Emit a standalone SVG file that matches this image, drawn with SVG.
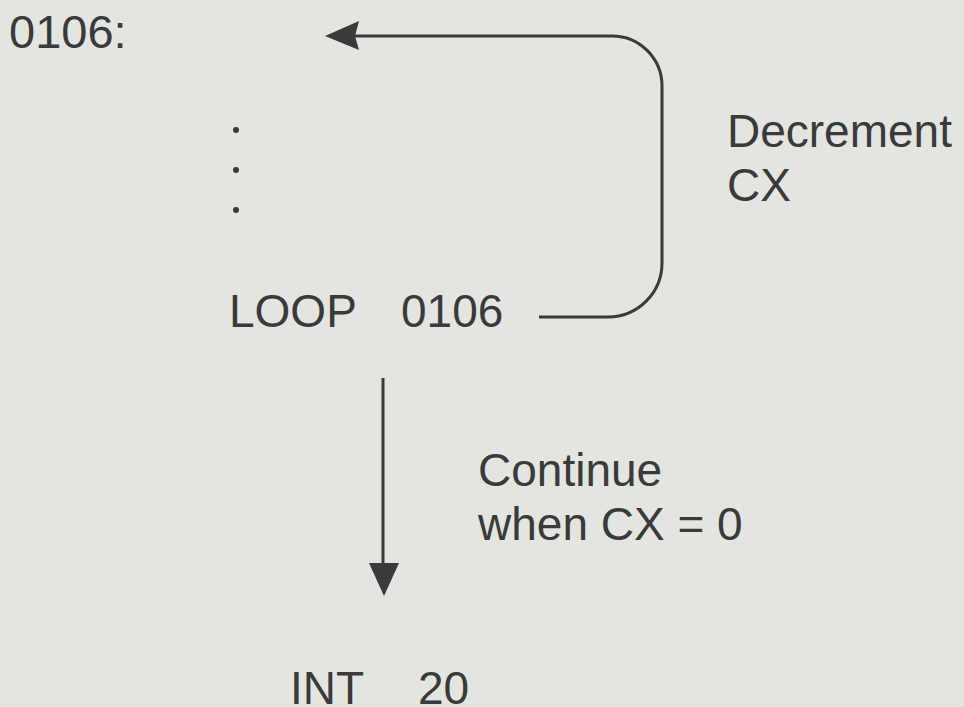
<svg xmlns="http://www.w3.org/2000/svg" width="964" height="707" viewBox="0 0 964 707">
<style>
text{font-family:"Liberation Sans",Arial,sans-serif;font-size:46px;fill:#3a3a3a}
.ln{fill:none;stroke:#3a3a3a;stroke-width:3}
.hd{fill:#3a3a3a}
</style>
<rect width="964" height="707" fill="#e3e5e1"/>
<g id="label0106"><text x="9" y="48" style="font-size:47px">0106:</text></g>
<g id="dots" class="hd"><circle cx="236" cy="130" r="3"/><circle cx="236" cy="170" r="3"/><circle cx="236" cy="210" r="3"/></g>
<g id="loop"><text x="229" y="327">LOOP</text><text x="401" y="327">0106</text></g>
<g id="decrement"><text x="727" y="147">Decrement</text><text x="727" y="201">CX</text></g>
<g id="continue"><text x="478" y="486">Continue</text><text x="478" y="540">when CX = 0</text></g>
<g id="int"><text x="290" y="704">INT</text><text x="418" y="704">20</text></g>
<g id="connectors">
<path class="ln" d="M539 317 H608 A54 54 0 0 0 662 263 V86 A50 50 0 0 0 612 36 H352"/>
<path class="hd" d="M325 36 L359 21 L355 36 L359 50 Z"/>
<path class="ln" d="M383 378 V570"/>
<path class="hd" d="M369 563 L399 563 L384 596 Z"/>
</g>
</svg>
